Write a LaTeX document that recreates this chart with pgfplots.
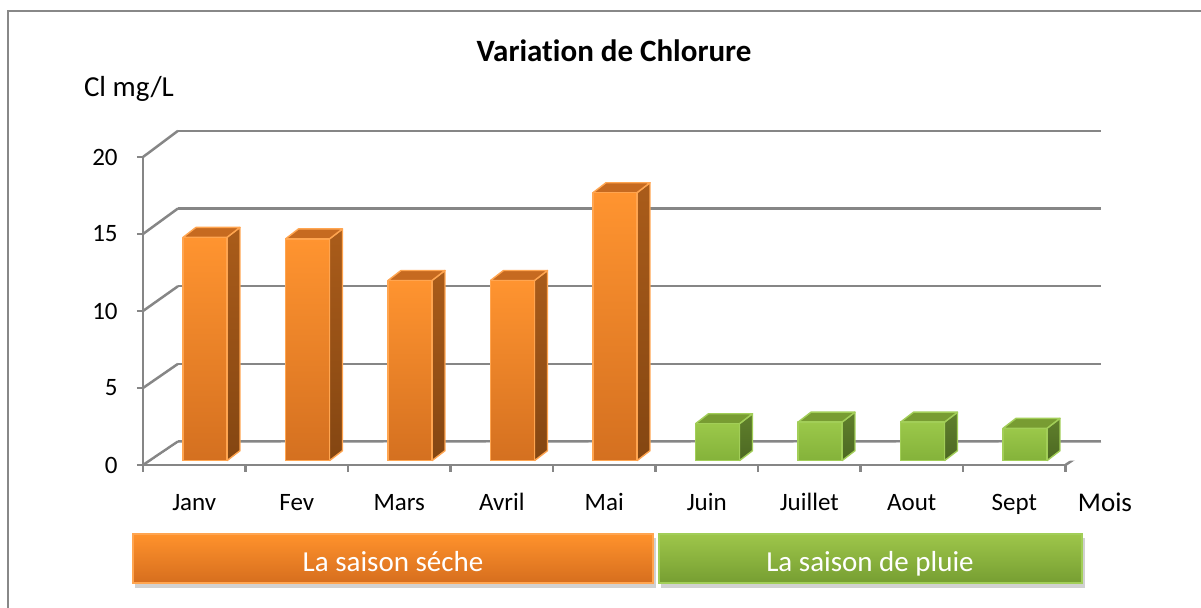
\documentclass[border=0pt]{standalone}
\usepackage{fontspec}
\setmainfont{Carlito}[Ligatures=NoCommon]
\usepackage{pgfplots}
\usepackage{pgfplotstable}
\pgfplotsset{compat=1.18}
\definecolor{gridgray}{RGB}{134,134,134}
\definecolor{frameGray}{RGB}{136,136,136}
% orange bars
\definecolor{orT}{RGB}{255,148,48}
\definecolor{orB}{RGB}{212,112,32}
\definecolor{orS1}{RGB}{170,92,26}
\definecolor{orS2}{RGB}{132,70,18}
\definecolor{orTp}{RGB}{198,106,32}
\definecolor{orE}{RGB}{255,165,80}
% green bars
\definecolor{grT}{RGB}{155,200,74}
\definecolor{grB}{RGB}{132,178,58}
\definecolor{grS1}{RGB}{96,128,44}
\definecolor{grS2}{RGB}{76,104,34}
\definecolor{grTp}{RGB}{120,156,50}
\definecolor{grE}{RGB}{162,206,88}
% season boxes
\definecolor{boxOrT}{RGB}{255,146,44}
\definecolor{boxOrB}{RGB}{214,110,30}
\definecolor{boxGrT}{RGB}{158,198,74}
\definecolor{boxGrB}{RGB}{118,158,50}

\pgfplotstableread{
idx v
0 14.5
1 14.4
2 11.7
3 11.7
4 17.4
}\dry
\pgfplotstableread{
idx v
5 2.4
6 2.5
7 2.5
8 2.1
}\wet

% geometry (axis units)
\def\bL{0.390}\def\bR{0.819}\def\bY{0.28}\def\dX{0.127}\def\dY{0.649}

\newcommand\barshadow[2]{%
  \pgfplotstablegetelem{#2}{idx}\of#1\edef\bi{\pgfplotsretval}%
  \pgfmathsetmacro\sxl{\bi+\bL-0.30}%
  \pgfmathsetmacro\sxr{\bi+\bR+0.32}%
  \pgfmathsetmacro\sxlb{\sxl+0.26}%
  \pgfmathsetmacro\sxrb{\sxr+0.26}%
  \edef\temp{\noexpand\addplot[draw=none, left color=white, middle color=black!30, right color=white, forget plot]
    coordinates {(\sxl,\bY) (\sxr,\bY) (\sxrb,1.45) (\sxlb,1.45) (\sxl,\bY)};}\temp
}
\newcommand\drawbar[3]{%
  \pgfplotstablegetelem{#2}{idx}\of#1\edef\bi{\pgfplotsretval}%
  \pgfplotstablegetelem{#2}{v}\of#1\edef\bv{\pgfplotsretval}%
  \pgfmathsetmacro\xl{\bi+\bL}%
  \pgfmathsetmacro\xr{\bi+\bR}%
  \pgfmathsetmacro\xld{\xl+\dX}%
  \pgfmathsetmacro\xrd{\xr+\dX}%
  \pgfmathsetmacro\yt{\bv+\bY}%
  \pgfmathsetmacro\ybd{\bY+\dY}%
  \pgfmathsetmacro\ytd{\yt+\dY}%
  \edef\temp{%
    \noexpand\addplot[draw=#3E, line width=0.7pt, line join=round, top color=#3S1, bottom color=#3S2, forget plot]
      coordinates {(\xr,\bY) (\xrd,\ybd) (\xrd,\ytd) (\xr,\yt) (\xr,\bY)};
    \noexpand\addplot[draw=#3E, line width=0.7pt, line join=round, fill=#3Tp, forget plot]
      coordinates {(\xl,\yt) (\xr,\yt) (\xrd,\ytd) (\xld,\ytd) (\xl,\yt)};
    \noexpand\addplot[draw=#3E, line width=0.7pt, line join=round, top color=#3T, bottom color=#3B, forget plot]
      coordinates {(\xl,\bY) (\xr,\bY) (\xr,\yt) (\xl,\yt) (\xl,\bY)};
  }\temp
}

\begin{document}
\begin{tikzpicture}
\useasboundingbox (0,0) rectangle (600.5pt,-304pt);
\fill[white] (0,0) rectangle (600.5pt,-304pt);
\begin{axis}[
  at={(71.5pt,-232.5pt)}, anchor=origin,
  x=51.25pt, y=7.7pt,
  xmin=0, xmax=9, ymin=0, ymax=20,
  clip=false,
  axis x line*=bottom, axis y line*=left,
  axis line style={draw=gridgray, line width=1.25pt},
  tick align=outside, major tick length=3pt,
  ytick={0,5,10,15,20},
  ytick style={draw=gridgray, line width=1.25pt},
  xtick={0.5,1.5,...,8.5},
  xticklabels={Janv,Fev,Mars,Avril,Mai,Juin,Juillet,Aout,Sept},
  xtick style={draw=none},
  tick label style={font=\fontsize{12.5}{14}\selectfont, text=black},
  /pgf/number format/assume math mode=true,
  yticklabel style={anchor=east, inner sep=0pt, xshift=-9.5pt},
  xticklabel style={anchor=base, inner sep=0pt, yshift=-20pt},
]
% back wall gridlines
\addplot[gridgray, line width=1.25pt, forget plot] coordinates {(0.3415,1.53) (9.3415,1.53)};
\addplot[gridgray, line width=1.25pt, forget plot] coordinates {(0.3415,6.57) (9.3415,6.57)};
\addplot[gridgray, line width=1.25pt, forget plot] coordinates {(0.3415,11.61) (9.3415,11.61)};
\addplot[gridgray, line width=1.25pt, forget plot] coordinates {(0.3415,16.66) (9.3415,16.66)};
\addplot[gridgray, line width=1.25pt, forget plot] coordinates {(0.3415,21.70) (9.3415,21.70)};
% side wall diagonals
\addplot[gridgray, line width=1.25pt, forget plot] coordinates {(0,0) (0.3415,1.53)};
\addplot[gridgray, line width=1.25pt, forget plot] coordinates {(0,5) (0.3415,6.57)};
\addplot[gridgray, line width=1.25pt, forget plot] coordinates {(0,10) (0.3415,11.61)};
\addplot[gridgray, line width=1.25pt, forget plot] coordinates {(0,15) (0.3415,16.66)};
\addplot[gridgray, line width=1.25pt, forget plot] coordinates {(0,20) (0.3415,21.70)};
% floor right edge
\addplot[gridgray, line width=1.25pt, forget plot] coordinates {(9,0) (9.3415,1.53)};
% category boundary ticks
\addplot[ycomb, gridgray, line width=1.25pt, forget plot] coordinates {(0,-0.45) (1,-0.45) (2,-0.45) (3,-0.45) (4,-0.45) (5,-0.45) (6,-0.45) (7,-0.45) (8,-0.45) (9,-0.45)};
% shadows
\pgfplotsinvokeforeach{0,...,4}{\barshadow{\dry}{#1}}
\pgfplotsinvokeforeach{0,...,3}{\barshadow{\wet}{#1}}
% bars
\pgfplotsinvokeforeach{0,...,4}{\drawbar{\dry}{#1}{or}}
\pgfplotsinvokeforeach{0,...,3}{\drawbar{\wet}{#1}{gr}}
\end{axis}
\begin{scope}[x=0.5pt, y=-0.5pt]
  \draw[frameGray, line width=1.25pt] (8,608) -- (8,11) -- (1201,11);
  \node[font=\fontsize{15.5}{18}\selectfont\bfseries, anchor=base] at (614,62) {Variation de Chlorure};
  \node[font=\fontsize{14.5}{17}\selectfont, anchor=base] at (129,97) {Cl mg/L};
  \node[font=\fontsize{13.5}{16}\selectfont, anchor=base] at (1105,512) {Mois};
  % season boxes
  \fill[black, opacity=0.18] (135,538) rectangle (656,588);
  \shade[top color=boxOrT, bottom color=boxOrB] (133,534) rectangle (653,583);
  \draw[orE, line width=0.6pt] (133,534) rectangle (653,583);
  \node[font=\fontsize{14.5}{17}\selectfont, text=white, anchor=base] at (393,572) {La saison séche};
  \fill[black, opacity=0.18] (661,538) rectangle (1085,588);
  \shade[top color=boxGrT, bottom color=boxGrB] (659,534) rectangle (1082,583);
  \draw[grE, line width=0.6pt] (659,534) rectangle (1082,583);
  \node[font=\fontsize{14.5}{17}\selectfont, text=white, anchor=base] at (870,572) {La saison de pluie};
\end{scope}
\end{tikzpicture}
\end{document}
